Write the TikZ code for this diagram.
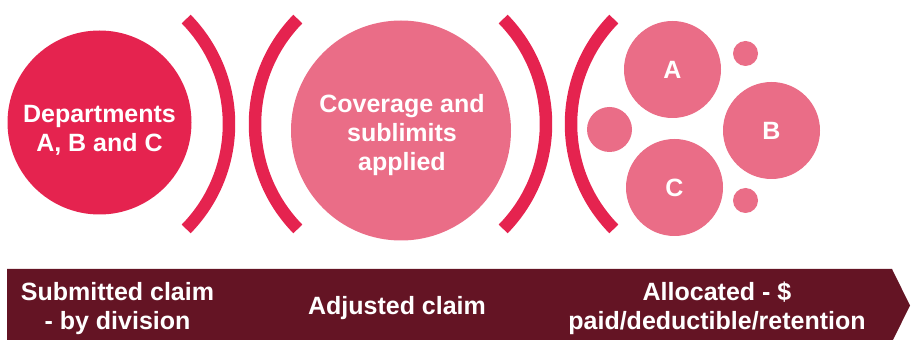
\documentclass[tikz,border=0pt]{standalone}
\usepackage{fontspec}
\setmainfont{Liberation Sans}
\definecolor{crimson}{HTML}{E5234F}
\definecolor{rosepink}{HTML}{EA6D87}
\definecolor{maroon}{HTML}{641424}
\begin{document}
\begin{tikzpicture}[x=1pt, y=1pt,
	bubble/.style={circle, fill=rosepink, inner sep=0, minimum size=97, font=\bfseries\fontsize{25}{29}\selectfont, text=white},
	dot/.style={circle, fill=rosepink, inner sep=0},
	bracket/.style={draw=crimson, line width=12.5},
	lbl/.style={font=\bfseries\fontsize{25}{29}\selectfont, text=white, align=center, inner sep=0}
]
\useasboundingbox (0,0) rectangle (911,340);

\node[circle, fill=crimson, inner sep=0, minimum size=184] (dept) at (99.5,217.5) {};
\node[lbl] (deptlbl) at (99.5,209.6) {Departments\\A, B and C};

\draw[bracket] (79,216) ++(-44.4:150) arc (-44.4:44.4:150);
\draw[bracket] (405,216) ++(135.6:150) arc (135.6:224.4:150);

\node[dot, minimum size=220] (cover) at (401,209.5) {};
\node[lbl] (coverlbl) at (402,205.4) {Coverage and\\sublimits\\applied};

\draw[bracket] (396,216) ++(-44.4:150) arc (-44.4:44.4:150);
\draw[bracket] (721,216) ++(135.6:150) arc (135.6:224.4:150);

\node[bubble] (depA) at (672.5,270.5) {A};
\node[bubble] (depB) at (771.5,209.5) {B};
\node[bubble] (depC) at (674.5,152.5) {C};
\node[dot, minimum size=45] (dotL) at (609.5,210.5) {};
\node[dot, minimum size=25] (dotT) at (745.5,286.5) {};
\node[dot, minimum size=25] (dotB) at (745.5,139.5) {};

% stage bar
\fill[maroon] (7,-2) -- (7,71) -- (892,71) -- (910,34.5) -- (892,-2) -- cycle;
\node[lbl] (stage1) at (117.5,31) {Submitted claim\\- by division};
\node[lbl, anchor=base] (stage2) at (397,25) {Adjusted claim};
\node[lbl] (stage3) at (717,32) {Allocated - \$\\paid/deductible/retention};
\end{tikzpicture}
\end{document}
